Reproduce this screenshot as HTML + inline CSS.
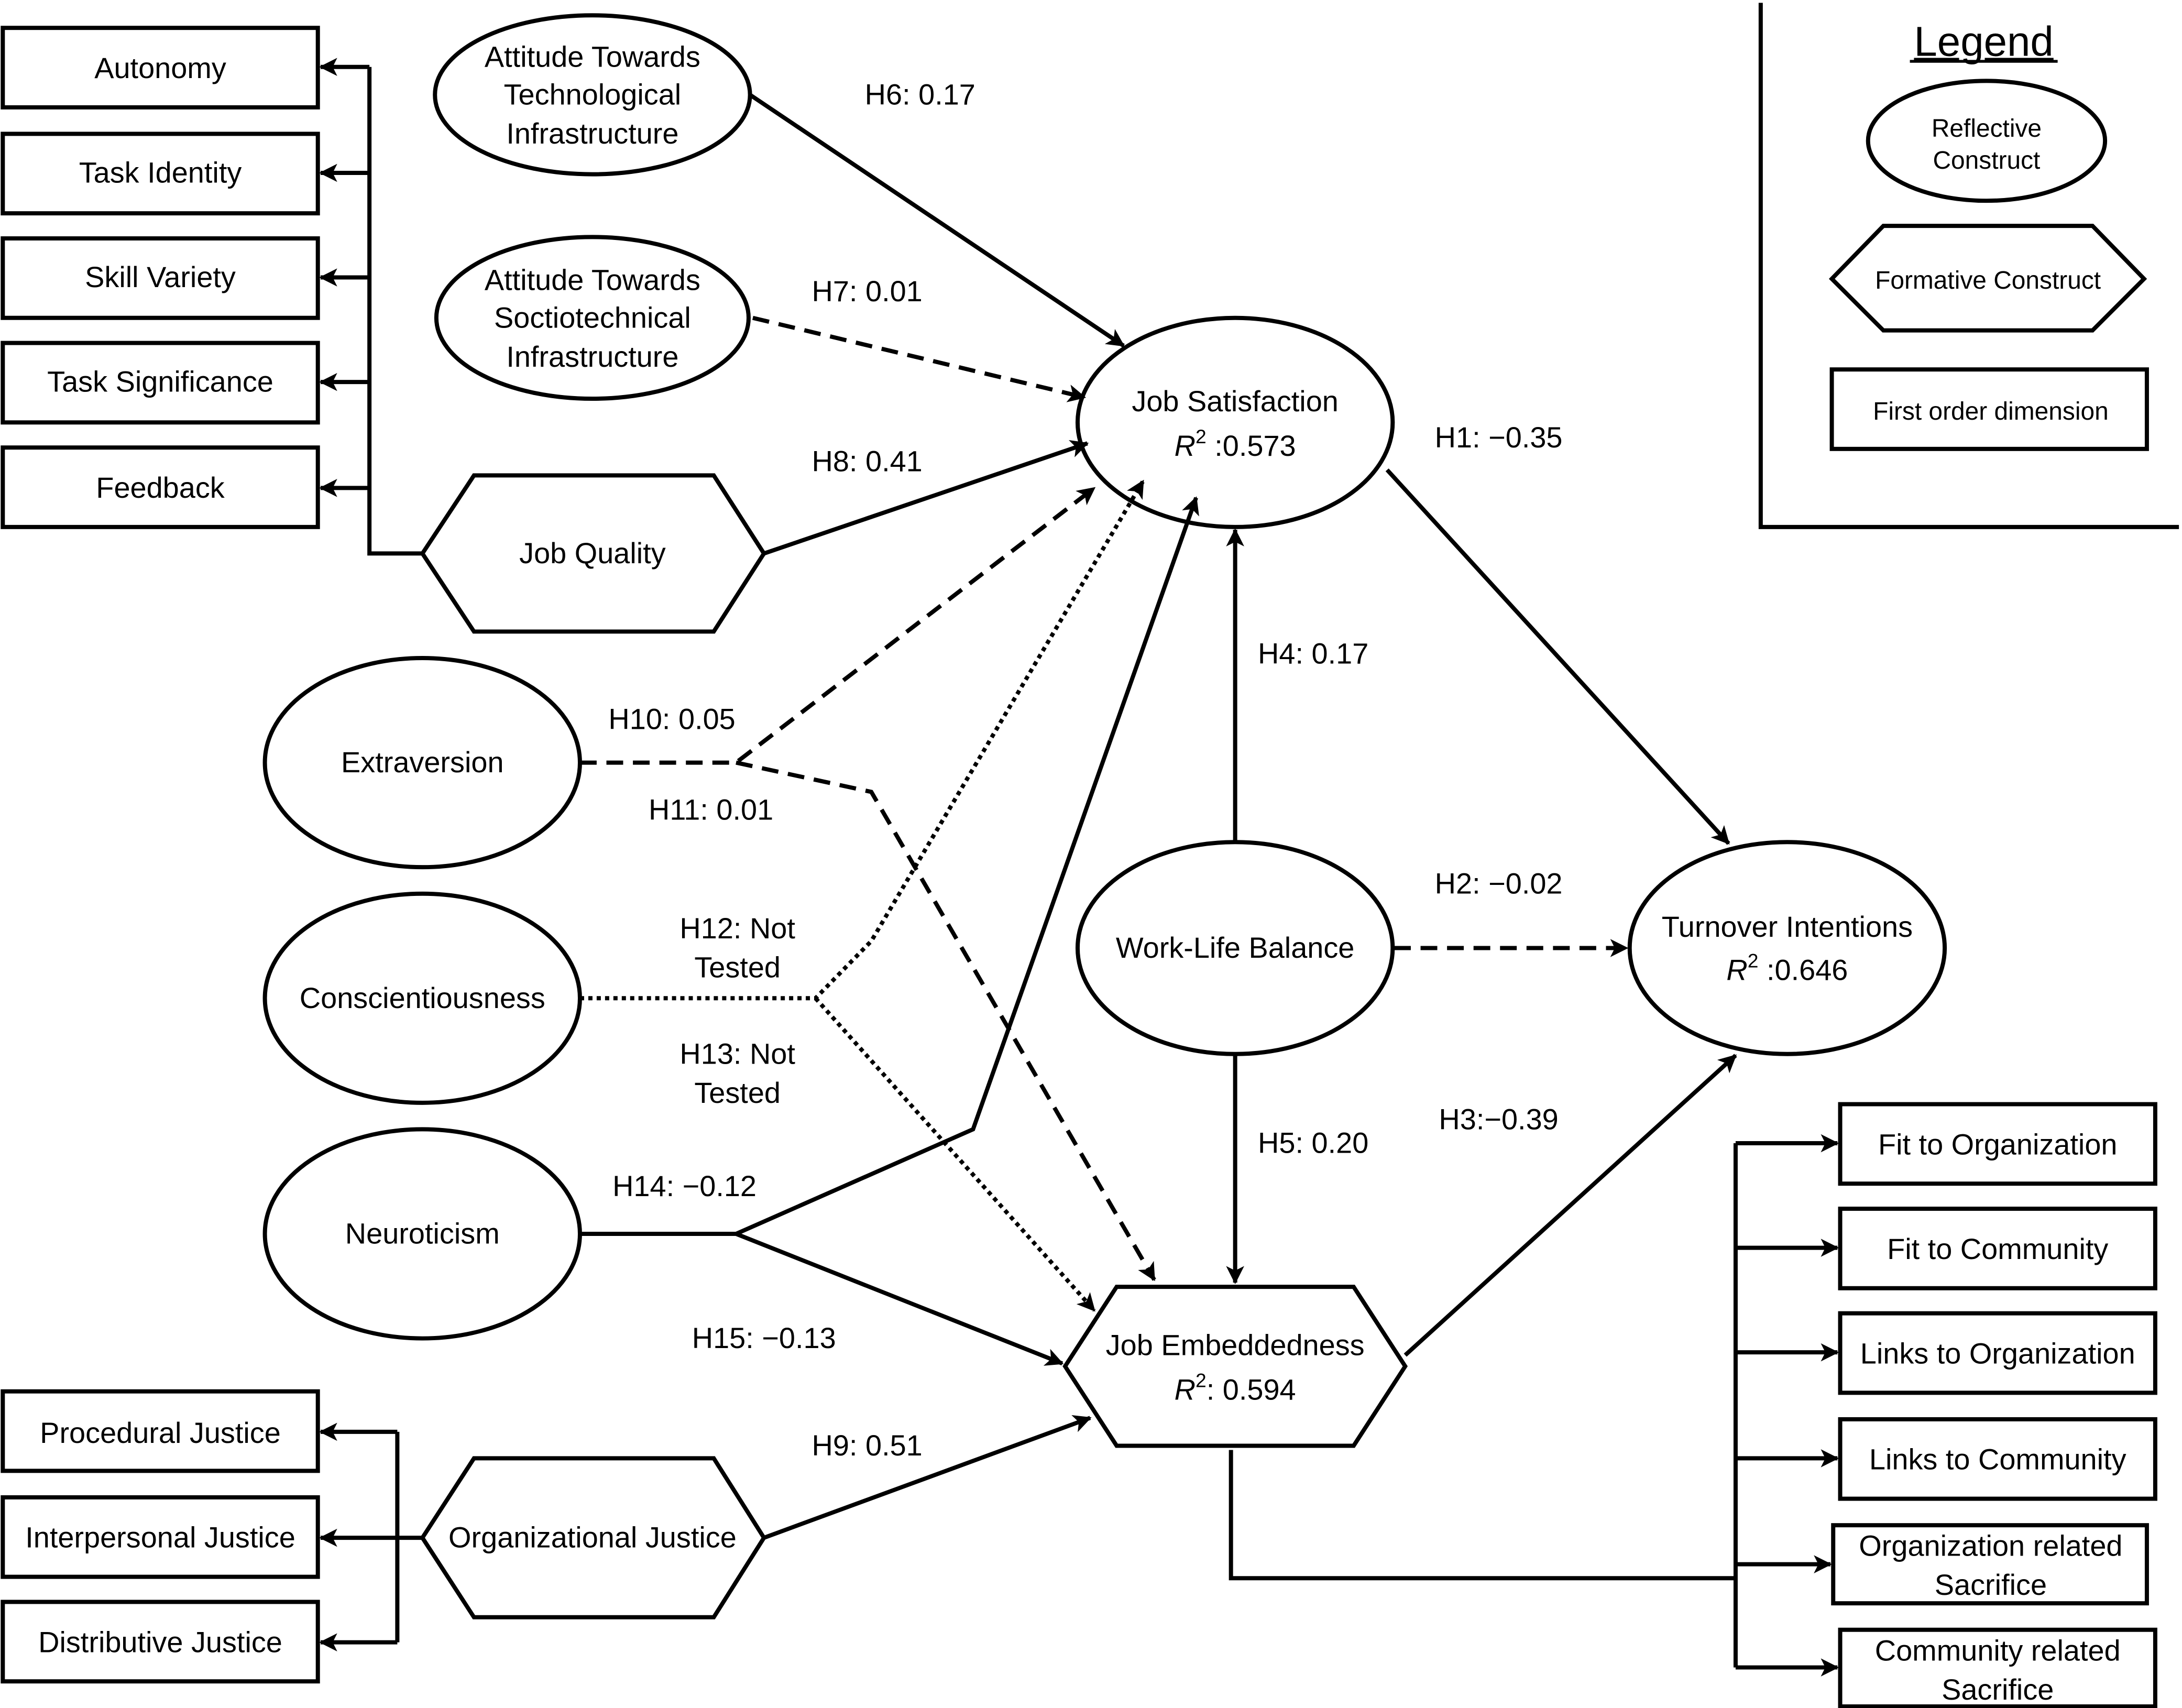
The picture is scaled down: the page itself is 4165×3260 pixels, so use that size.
<!DOCTYPE html>
<html><head><meta charset="utf-8"><style>html,body{margin:0;padding:0;background:#fff}svg{display:block}text{font-family:"Liberation Sans",Arial,sans-serif;fill:#000}</style></head><body>
<svg width="4165" height="3260" viewBox="0 0 1565.2 1225.1" preserveAspectRatio="none" xmlns="http://www.w3.org/2000/svg">
<defs><marker id="a" viewBox="0 0 12 12" refX="11" refY="6" markerWidth="13" markerHeight="13" markerUnits="userSpaceOnUse" orient="auto"><path d="M0,0 L12,6 L0,12 L3,6 z" fill="#000"/></marker></defs>
<rect width="1565.2" height="1225.1" fill="#fff"/>
<g fill="#fff" stroke="#000" stroke-width="3">
<rect x="2" y="20" width="226" height="57"/><rect x="2" y="96" width="226" height="57"/><rect x="2" y="171" width="226" height="57"/><rect x="2" y="246" width="226" height="57"/><rect x="2" y="321" width="226" height="57"/>
<rect x="2" y="998" width="226" height="57"/><rect x="2" y="1074" width="226" height="57"/><rect x="2" y="1149" width="226" height="57"/>
<rect x="1320" y="792" width="226" height="57"/><rect x="1320" y="867" width="226" height="57"/><rect x="1320" y="942" width="226" height="57"/><rect x="1320" y="1018" width="226" height="57"/><rect x="1315" y="1094" width="225" height="56"/><rect x="1320" y="1169" width="226" height="55"/>
<ellipse cx="425" cy="68" rx="113" ry="57"/><ellipse cx="425" cy="228" rx="112" ry="58"/>
<ellipse cx="886" cy="303" rx="113" ry="75"/><ellipse cx="303" cy="547" rx="113" ry="75"/><ellipse cx="303" cy="716" rx="113" ry="75"/><ellipse cx="303" cy="885" rx="113" ry="75"/>
<ellipse cx="886" cy="680" rx="113" ry="76"/><ellipse cx="1282" cy="680" rx="113" ry="76"/>
<polygon points="303,397 340,341 512,341 548,397 512,453 340,453"/>
<polygon points="764,980 801,923 971,923 1008,980 971,1037 801,1037"/>
<polygon points="303,1103 340,1046 512,1046 548,1103 512,1160 340,1160"/>
<ellipse cx="1425" cy="101" rx="85" ry="43"/>
<polygon points="1314,200 1351,162 1501,162 1538,200 1501,237 1351,237"/>
<rect x="1314" y="265" width="226" height="57"/>
</g>
<g fill="none" stroke="#000" stroke-width="3">
<path d="M1263,2 V378 H1563"/>
<path d="M303,397 H265 V48"/>
<path d="M265,48 H230" marker-end="url(#a)"/><path d="M265,124 H230" marker-end="url(#a)"/><path d="M265,199 H230" marker-end="url(#a)"/><path d="M265,274 H230" marker-end="url(#a)"/><path d="M265,350 H230" marker-end="url(#a)"/>
<path d="M303,1103 H285 M285,1027 V1178"/>
<path d="M285,1027 H230" marker-end="url(#a)"/><path d="M285,1103 H230" marker-end="url(#a)"/><path d="M285,1178 H230" marker-end="url(#a)"/>
<path d="M883,1040 V1132 H1245 M1245,820 V1196"/>
<path d="M1245,820 H1318" marker-end="url(#a)"/><path d="M1245,895 H1318" marker-end="url(#a)"/><path d="M1245,970 H1318" marker-end="url(#a)"/><path d="M1245,1046 H1318" marker-end="url(#a)"/><path d="M1245,1122 H1313" marker-end="url(#a)"/><path d="M1245,1196 H1318" marker-end="url(#a)"/>
<path d="M538,68 L806,248" marker-end="url(#a)"/>
<path d="M540,228 L778,285" stroke-dasharray="12,7" marker-end="url(#a)"/>
<path d="M548,397 L780,318" marker-end="url(#a)"/>
<path d="M548,1103 L782,1017" marker-end="url(#a)"/>
<path d="M416,547 H528 L785,350" stroke-dasharray="12,7" marker-end="url(#a)"/>
<path d="M528,547 L625,568 L828,918" stroke-dasharray="12,7" marker-end="url(#a)"/>
<path d="M416,716 H585 L625,675 L820,345" stroke-dasharray="3,3" marker-end="url(#a)"/>
<path d="M585,716 L785,940" stroke-dasharray="3,3" marker-end="url(#a)"/>
<path d="M416,885 H528 L698,810 L858,357" marker-end="url(#a)"/>
<path d="M528,885 L762,978" marker-end="url(#a)"/>
<path d="M886,604 V380" marker-end="url(#a)"/>
<path d="M886,756 V920" marker-end="url(#a)"/>
<path d="M1000,680 H1167" stroke-dasharray="12,7" marker-end="url(#a)"/>
<path d="M995,337 L1240,605" marker-end="url(#a)"/>
<path d="M1008,972 L1245,757" marker-end="url(#a)"/>
</g>
<g font-size="21" text-anchor="middle">
<text x="115" y="56">Autonomy</text><text x="115" y="131">Task Identity</text><text x="115" y="206">Skill Variety</text><text x="115" y="281">Task Significance</text><text x="115" y="357">Feedback</text>
<text x="115" y="1035">Procedural Justice</text><text x="115" y="1110">Interpersonal Justice</text><text x="115" y="1185">Distributive Justice</text>
<text x="1433" y="828">Fit to Organization</text><text x="1433" y="903">Fit to Community</text><text x="1433" y="978">Links to Organization</text><text x="1433" y="1054">Links to Community</text>
<text x="1428" y="1116">Organization related</text><text x="1428" y="1144">Sacrifice</text>
<text x="1433" y="1191">Community related</text><text x="1433" y="1219">Sacrifice</text>
<text x="425" y="48">Attitude Towards</text><text x="425" y="75">Technological</text><text x="425" y="103">Infrastructure</text>
<text x="425" y="208">Attitude Towards</text><text x="425" y="235">Soctiotechnical</text><text x="425" y="263">Infrastructure</text>
<text x="886" y="295">Job Satisfaction</text><text x="886" y="327"><tspan font-style="italic">R</tspan><tspan font-size="14" dy="-9">2</tspan><tspan dy="9"> :0.573</tspan></text>
<text x="425" y="404">Job Quality</text>
<text x="303" y="554">Extraversion</text><text x="303" y="723">Conscientiousness</text><text x="303" y="892">Neuroticism</text>
<text x="886" y="687">Work-Life Balance</text>
<text x="1282" y="672">Turnover Intentions</text><text x="1282" y="703"><tspan font-style="italic">R</tspan><tspan font-size="14" dy="-9">2</tspan><tspan dy="9"> :0.646</tspan></text>
<text x="886" y="972">Job Embeddedness</text><text x="886" y="1004"><tspan font-style="italic">R</tspan><tspan font-size="14" dy="-9">2</tspan><tspan dy="9">: 0.594</tspan></text>
<text x="425" y="1110">Organizational Justice</text>
<text x="660" y="75">H6: 0.17</text><text x="622" y="216">H7: 0.01</text><text x="622" y="338">H8: 0.41</text>
<text x="482" y="523">H10: 0.05</text><text x="510" y="588">H11: 0.01</text>
<text x="529" y="673">H12: Not</text><text x="529" y="701">Tested</text>
<text x="529" y="763">H13: Not</text><text x="529" y="791">Tested</text>
<text x="491" y="858">H14: −0.12</text><text x="548" y="967">H15: −0.13</text><text x="622" y="1044">H9: 0.51</text>
<text x="942" y="476">H4: 0.17</text><text x="942" y="827">H5: 0.20</text>
<text x="1075" y="321">H1: −0.35</text><text x="1075" y="641">H2: −0.02</text><text x="1075" y="810">H3:−0.39</text>
<text x="1423" y="40" font-size="30" text-decoration="underline">Legend</text>
<text x="1425" y="98" font-size="18">Reflective</text><text x="1425" y="121" font-size="18">Construct</text>
<text x="1426" y="207" font-size="18">Formative Construct</text>
<text x="1428" y="301" font-size="18">First order dimension</text>
</g>
<line x1="1370" y1="44" x2="1476" y2="44" stroke="#000" stroke-width="2"/>
</svg>
</body></html>
